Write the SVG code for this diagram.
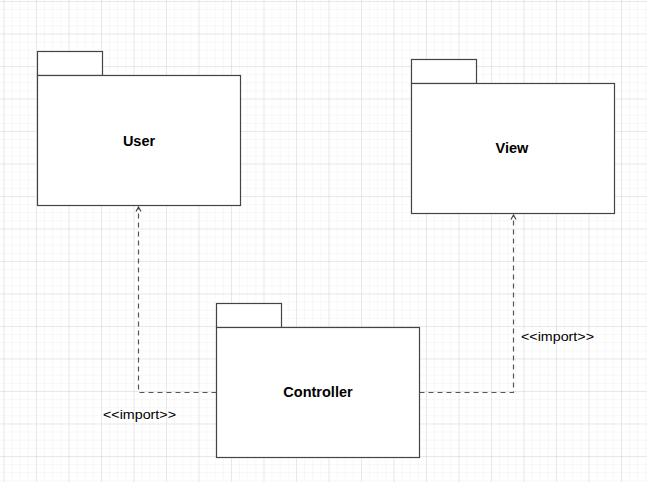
<svg xmlns="http://www.w3.org/2000/svg" width="647" height="482" viewBox="0 0 647 482">
  <defs>
    <pattern id="minor" x="3.5" y="1" width="8.125" height="8.125" patternUnits="userSpaceOnUse">
      <path d="M0,0 V8.125 M0,0 H8.125" fill="none" stroke="#f0f0f0" stroke-width="1"/>
    </pattern>
    <pattern id="major" x="3.5" y="1" width="32.5" height="32.5" patternUnits="userSpaceOnUse">
      <path d="M0,0 V32.5 M0,0 H32.5" fill="none" stroke="#dadada" stroke-width="1"/>
    </pattern>
    <marker id="open" markerWidth="8" markerHeight="8" refX="4" refY="1" orient="auto-start-reverse" markerUnits="userSpaceOnUse" viewBox="0 0 8 8">
      <path d="M1.5,6 L4,1 L6.5,6 M4,1 V6" fill="none" stroke="#444" stroke-width="1"/>
    </marker>
  </defs>
  <style>
    .shape { fill: #ffffff; stroke: #444444; stroke-width: 1.2; }
    .title { font-family: "Liberation Sans", Arial, sans-serif; font-size: 14.5px; font-weight: bold; fill: #000; text-anchor: middle; }
    .lbl { font-family: "Liberation Sans", Arial, sans-serif; font-size: 13px; fill: #000; }
    .conn { fill: none; stroke: #555555; stroke-width: 1.2; stroke-dasharray: 5 4; }
  </style>
  <rect width="647" height="482" fill="#ffffff"/>
  <rect width="647" height="482" fill="url(#minor)"/>
  <rect width="647" height="482" fill="url(#major)"/>

  <g id="connectors">
    <path class="conn" d="M216.5,392.5 H138.5 V208"/>
    <path d="M136,211.5 L138.5,207 L141,211.5" fill="none" stroke="#444" stroke-width="1.2"/>
    <path class="conn" d="M419.5,392.5 H513.5 V216"/>
    <path d="M511,219.5 L513.5,215 L516,219.5" fill="none" stroke="#444" stroke-width="1.2"/>
    <text class="lbl" x="103" y="418.5" textLength="73" lengthAdjust="spacingAndGlyphs">&lt;&lt;import&gt;&gt;</text>
    <text class="lbl" x="521" y="340.5" textLength="73" lengthAdjust="spacingAndGlyphs">&lt;&lt;import&gt;&gt;</text>
  </g>

  <g id="user">
    <rect class="shape" x="37.5" y="51.5" width="65" height="24"/>
    <rect class="shape" x="37.5" y="75.5" width="203" height="130"/>
    <text class="title" x="139" y="146">User</text>
  </g>

  <g id="view">
    <rect class="shape" x="411.5" y="59.5" width="65" height="24"/>
    <rect class="shape" x="411.5" y="83.5" width="203" height="130"/>
    <text class="title" x="512" y="153">View</text>
  </g>

  <g id="controller">
    <rect class="shape" x="216.5" y="303.5" width="65" height="24"/>
    <rect class="shape" x="216.5" y="327.5" width="203" height="130"/>
    <text class="title" x="318" y="397">Controller</text>
  </g>
</svg>
